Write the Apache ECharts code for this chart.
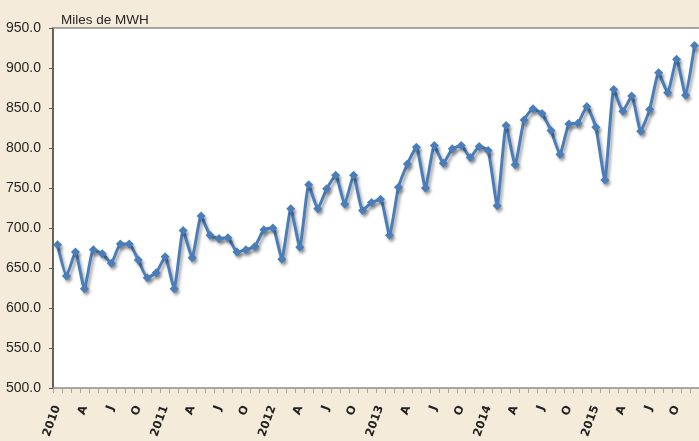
<!DOCTYPE html>
<html>
<head>
<meta charset="utf-8">
<script src="https://cdn.jsdelivr.net/npm/echarts@6/dist/echarts.min.js"></script>
<style>
html,body{margin:0;padding:0;background:#F5EBDA;}
#c{width:699px;height:441px;}
</style>
</head>
<body>
<div id="c"></div>
<script>
var years = ['2010','2011','2012','2013','2014','2015'];
var monthLetters = ['','F','M','A','M','J','J','A','S','O','N','D'];
var yTicks = [500, 550, 600, 650, 700, 750, 800, 850, 900, 950];
var unitLabel = 'Miles de MWH';
var values = [
  679, 640, 670, 624, 673, 668, 656, 680, 680, 660, 638, 644,
  664, 624, 697, 663, 715, 691, 687, 688, 670, 673, 677, 698,
  700, 661, 724, 676, 754, 724, 749, 766, 730, 766, 722, 732,
  736, 691, 751, 780, 801, 750, 803, 781, 799, 803, 788, 802,
  797, 728, 828, 779, 835, 849, 843, 822, 792, 830, 831, 852,
  826, 760, 873, 846, 865, 821, 848, 894, 869, 911, 866, 928
];

var categories = [];
years.forEach(function (y) {
  monthLetters.forEach(function (m, i) { categories.push(i === 0 ? y : m); });
});

var chart = echarts.init(document.getElementById('c'));
chart.setOption({
  backgroundColor: '#F5EBDA',
  animation: false,
  title: {
    text: unitLabel, left: 56, top: 8,
    textStyle: {fontFamily: 'Liberation Sans', fontSize: 13.5, fontWeight: 'normal', color: '#262626'}
  },
  grid: {left: 53, top: 28, right: 0, bottom: 51, show: true, backgroundColor: '#ffffff', borderWidth: 0},
  xAxis: [{
    type: 'category', data: categories, boundaryGap: true,
    axisLine: {lineStyle: {color: '#8c8c8c', width: 1.5}},
    axisTick: {show: true, interval: 0, length: 5, lineStyle: {color: '#a6a6a6'}},
    axisLabel: {
      interval: 2, rotate: 70, margin: 18,
      fontFamily: 'DejaVu Sans', fontWeight: 'bold', fontSize: 11.5, color: '#222'
    },
    splitLine: {show: false}
  }, {
    type: 'category', data: categories, position: 'top',
    axisLine: {show: true, lineStyle: {color: '#8c8c8c', width: 1.5}},
    axisTick: {show: false}, axisLabel: {show: false}
  }],
  yAxis: {
    type: 'value', min: yTicks[0], max: yTicks[yTicks.length - 1], interval: 50,
    axisLine: {show: true, lineStyle: {color: '#333', width: 1.5}},
    axisTick: {show: true, length: 4, lineStyle: {color: '#555'}},
    splitLine: {show: false},
    axisLabel: {
      margin: 12, fontFamily: 'Liberation Sans', fontSize: 14, color: '#262626',
      formatter: function (v) { return v.toFixed(1); }
    }
  },
  series: [{
    type: 'line', data: values, smooth: 0.15,
    symbol: 'diamond', symbolSize: 9, showSymbol: true, showAllSymbol: true,
    lineStyle: {color: '#4A7EBB', width: 3, shadowColor: 'rgba(0,0,0,0.35)', shadowBlur: 3, shadowOffsetX: 2, shadowOffsetY: 3},
    itemStyle: {color: '#4A7EBB', shadowColor: 'rgba(0,0,0,0.3)', shadowBlur: 3, shadowOffsetX: 2, shadowOffsetY: 3}
  }]
});
</script>
</body>
</html>
